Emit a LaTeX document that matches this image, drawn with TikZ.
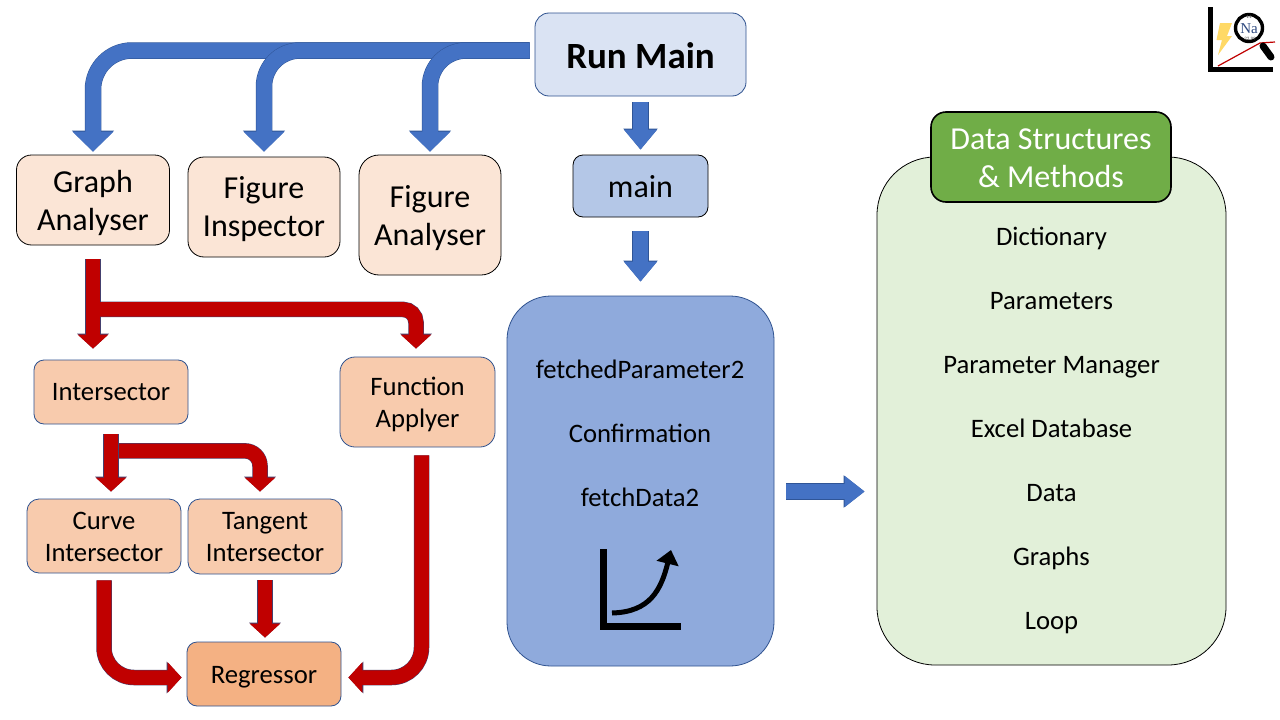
\documentclass[tikz,border=0pt]{standalone}
\usepackage{fontspec}
\setmainfont{Carlito}
\newfontfamily\logoserif{Liberation Serif}
\usetikzlibrary{arrows.meta}
\newcommand{\fsz}[2]{\fontsize{#1}{#2}\selectfont}
\newcommand{\bt}[2]{\raisebox{#1}[0pt][0pt]{\begin{tabular}{@{}c@{}}#2\end{tabular}}}
\tikzset{
  x=1pt,y=-1pt,
  box/.style={rounded corners=#1,inner sep=0pt,text=black,line width=0.8pt},
  lines28/.style={font=\fsz{32}{38}},
  lines25/.style={font=\fsz{26.67}{32}},
  lbl/.style={inner sep=0pt,anchor=base,text=black,font=\fsz{26.67}{32}},
  bluearrow/.style={draw=arrowblue,line width=15.5pt,
     preaction={draw=arrowedge,line width=16.5pt,-{Triangle[width=#1+1pt,length=21pt]}},
     -{Triangle[width=#1,length=20pt]}},
  redarrow/.style={draw=arrowred,line width=14.5pt,
     preaction={draw=rededge,line width=15.5pt,-{Triangle[width=31pt,length=15pt]}},
     -{Triangle[width=30pt,length=14pt]}},
}
\definecolor{arrowblue}{HTML}{4472C4}
\definecolor{arrowedge}{HTML}{2F5597}
\definecolor{arrowred}{HTML}{C00000}
\definecolor{rededge}{HTML}{44406E}
\definecolor{boxedge}{HTML}{2F528F}
\definecolor{runfill}{HTML}{DAE3F3}
\definecolor{mainfill}{HTML}{B4C7E7}
\definecolor{bigfill}{HTML}{8FAADC}
\definecolor{lightorange}{HTML}{FBE5D6}
\definecolor{midorange}{HTML}{F8CBAD}
\definecolor{deeporange}{HTML}{F4B183}
\definecolor{lightgreen}{HTML}{E2F0D9}
\definecolor{headgreen}{HTML}{70AD47}
\definecolor{boltyellow}{HTML}{FFD966}
\definecolor{naBlue}{HTML}{2F4A80}
\begin{document}
\begin{tikzpicture}
\useasboundingbox (0,0) rectangle (1280,720);
\fill[white] (0,0) rectangle (1280,720);

% boxes
\node[box=14pt,draw=boxedge,fill=runfill,minimum width=211pt,minimum height=83pt,font=\fsz{37}{38}\bfseries] (run) at (640.5,54.5) {\bt{-12.85pt}{Run Main}};
\node[box=10pt,draw=black,fill=mainfill,minimum width=135pt,minimum height=62pt,font=\fsz{32}{32}] (main) at (640.5,186) {\bt{-11.3pt}{main}};
\node[box=44pt,draw=boxedge,fill=bigfill,minimum width=267pt,minimum height=370pt] (big) at (640.5,481) {};
\node[box=15pt,draw=black,fill=lightorange,minimum width=153pt,minimum height=90pt,lines28] (gal) at (93,200) {\bt{-9.9pt}{Graph\\Analyser}};
\node[box=16pt,draw=black,fill=lightorange,minimum width=152pt,minimum height=100pt,lines28] (fi) at (264,207) {\bt{-8.9pt}{Figure\\Inspector}};
\node[box=20pt,draw=black,fill=lightorange,minimum width=142pt,minimum height=120pt,lines28] (fa) at (430,215) {\bt{-9.9pt}{Figure\\Analyser}};
\node[box=10pt,draw=boxedge,fill=midorange,minimum width=154pt,minimum height=64pt,lines25] (isect) at (111,392) {\bt{-8.6pt}{Intersector}};
\node[box=15pt,draw=boxedge,fill=midorange,minimum width=155pt,minimum height=90pt,lines25] (fapp) at (417.5,402) {\bt{-9.3pt}{Function\\Applyer}};
\node[box=12pt,draw=boxedge,fill=midorange,minimum width=154pt,minimum height=74pt,lines25] (curve) at (104,536) {\bt{-9.3pt}{Curve\\Intersector}};
\node[box=12pt,draw=boxedge,fill=midorange,minimum width=154pt,minimum height=75pt,lines25] (tang) at (265,536.5) {\bt{-9.3pt}{Tangent\\Intersector}};
\node[box=10pt,draw=boxedge,fill=deeporange,minimum width=154pt,minimum height=64pt,lines25] (regr) at (264,674) {\bt{-9pt}{Regressor}};
\node[box=58pt,draw=black,fill=lightgreen,minimum width=349pt,minimum height=508pt] (green) at (1051.5,411) {};
\node[box=15pt,draw=black,line width=1.6pt,fill=headgreen,minimum width=240pt,minimum height=90pt,lines28,text=white] (head) at (1051,157) {\bt{-10pt}{Data Structures\\\& Methods}};

% labels in big box
\node[lbl] (l1) at (640,378) {fetchedParameter2};
\node[lbl] (l2) at (640,442) {Confirmation};
\node[lbl] (l3) at (640,506) {fetchData2};

% labels in green box
\node[lbl] (g1) at (1051.5,245) {Dictionary};
\node[lbl] (g2) at (1051.5,309) {Parameters};
\node[lbl] (g3) at (1051.5,373) {Parameter Manager};
\node[lbl] (g4) at (1051.5,437) {Excel Database};
\node[lbl] (g5) at (1051.5,501) {Data};
\node[lbl] (g6) at (1051.5,565) {Graphs};
\node[lbl] (g7) at (1051.5,629) {Loop};

% blue connectors
\draw[bluearrow=40pt,rounded corners=39pt] ([xshift=-5pt,yshift=4pt]run.west) -| ([yshift=3pt]gal.north);
\draw[bluearrow=40pt,rounded corners=36pt] ([xshift=-5pt,yshift=4pt]run.west) -| ([yshift=5pt]fi.north);
\draw[bluearrow=40pt,rounded corners=36pt] ([xshift=-5pt,yshift=4pt]run.west) -| ([yshift=3pt]fa.north);
\draw[bluearrow=32pt] ([yshift=-6pt]run.south) -- ([yshift=5pt]main.north);
\draw[bluearrow=32pt] ([yshift=-14pt]main.south) -- ([yshift=14pt]big.north);
\draw[bluearrow=30pt] ([xshift=12pt,yshift=-10.5pt]big.east) -- ([xshift=-12pt,yshift=-80.5pt]green.west);

% red connectors
\draw[redarrow] ([yshift=-14pt]gal.south) -- ([xshift=-18pt,yshift=11pt]isect.north);
\draw[redarrow,rounded corners=13pt] ([xshift=7pt,yshift=-64pt]gal.south) -| ([xshift=-1.5pt,yshift=8pt]fapp.north);
\draw[redarrow] ([yshift=-10pt]isect.south) -- ([xshift=7pt,yshift=7pt]curve.north);
\draw[redarrow,rounded corners=15pt] ([xshift=8pt,yshift=-26.5pt]isect.south) -| ([xshift=-5pt,yshift=7pt]tang.north);
\draw[redarrow,rounded corners=30pt] ([xshift=4pt,yshift=-8pt]fapp.south) |- ([xshift=7pt,yshift=-3.5pt]regr.east);
\draw[redarrow,rounded corners=30pt] ([yshift=-7pt]curve.south) |- ([xshift=-5pt,yshift=-3.5pt]regr.west);
\draw[redarrow] ([yshift=-6pt]tang.south) -- ([xshift=1pt,yshift=4pt]regr.north);

% small plot in big box
\draw[black,line width=7pt,line join=miter] (603.5,549) -- (603.5,626.5) -- (681,626.5);
\draw[black,line width=5pt,-{Triangle[width=22pt,length=14pt]}] (612,613) .. controls (650,612) and (661,590) .. (671,550);

% logo
\draw[black,line width=5.5pt] (1210.5,7) -- (1210.5,69.3) -- (1273,69.3);
\fill[boltyellow] (1220,23) -- (1232,23) -- (1227,36) -- (1232,36) -- (1218,55) -- (1222,40) -- (1216.5,40) -- cycle;
\draw[arrowred,line width=1.2pt] (1218,66) -- (1260,43) -- (1275,42);
\draw[black,line width=7pt,line cap=round] (1263,46) -- (1271,57);
\draw[black,line width=3.4pt,fill=white] (1249,28) circle (13.5pt);
\node[inner sep=0pt,text=naBlue,font=\logoserif\fsz{15}{16}] (na) at (1249,28.5) {Na};
\node[inner sep=0pt,text=black!70,font=\fsz{5}{6}] (naz) at (1249,17) {11};
\node[inner sep=0pt,text=black!70,font=\fsz{5}{6}] (nam) at (1250,38.5) {22.99};
\end{tikzpicture}
\end{document}
